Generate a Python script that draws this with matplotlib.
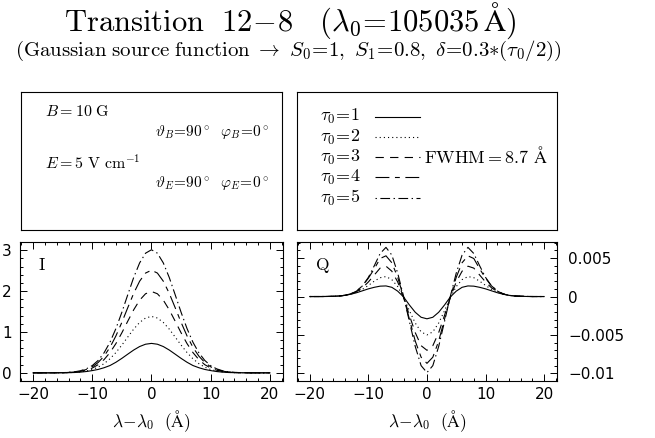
import matplotlib

matplotlib.use("Agg")
import matplotlib.pyplot as plt
from matplotlib.ticker import FuncFormatter, MultipleLocator

# wavelength offset grid (Angstrom)
WAVE = [-20, -19, -18, -17, -16, -15, -14, -13, -12, -11, -10, -9, -8, -7, -6, -5, -4, -3, -2, -1,
        0, 1, 2, 3, 4, 5, 6, 7, 8, 9, 10, 11, 12, 13, 14, 15, 16, 17, 18, 19, 20]

TAU_LABELS = ["1", "2", "3", "4", "5"]

# Stokes I, one list per tau_0
I_TAU1 = [0, 0, 0, 0, 0.001, 0.002, 0.004, 0.008, 0.017, 0.032, 0.055, 0.083, 0.125, 0.179, 0.259, 0.354, 0.457, 0.558, 0.643, 0.70,
          0.72, 0.70, 0.643, 0.558, 0.457, 0.354, 0.259, 0.179, 0.125, 0.083, 0.055, 0.032, 0.017, 0.008, 0.004, 0.002, 0.001, 0, 0, 0, 0]
I_TAU2 = [0, 0, 0, 0, 0.001, 0.002, 0.005, 0.011, 0.023, 0.045, 0.081, 0.139, 0.225, 0.344, 0.497, 0.679, 0.876, 1.070, 1.232, 1.341,
          1.38, 1.341, 1.232, 1.070, 0.876, 0.679, 0.497, 0.344, 0.225, 0.139, 0.081, 0.045, 0.023, 0.011, 0.005, 0.002, 0.001, 0, 0, 0, 0]
I_TAU3 = [0, 0, 0, 0, 0.001, 0.003, 0.008, 0.017, 0.034, 0.064, 0.117, 0.200, 0.324, 0.496, 0.716, 0.979, 1.264, 1.542, 1.777, 1.934,
          1.99, 1.934, 1.777, 1.542, 1.264, 0.979, 0.716, 0.496, 0.324, 0.200, 0.117, 0.064, 0.034, 0.017, 0.008, 0.003, 0.001, 0, 0, 0, 0]
I_TAU4 = [0, 0, 0, 0, 0.002, 0.004, 0.010, 0.021, 0.042, 0.081, 0.147, 0.253, 0.409, 0.625, 0.904, 1.235, 1.594, 1.945, 2.241, 2.440,
          2.51, 2.440, 2.241, 1.945, 1.594, 1.235, 0.904, 0.625, 0.409, 0.253, 0.147, 0.081, 0.042, 0.021, 0.010, 0.004, 0.002, 0, 0, 0, 0]
I_TAU5 = [0, 0, 0, 0.001, 0.002, 0.005, 0.012, 0.025, 0.051, 0.098, 0.177, 0.303, 0.491, 0.749, 1.084, 1.481, 1.911, 2.333, 2.688, 2.926,
          3.01, 2.926, 2.688, 2.333, 1.911, 1.481, 1.084, 0.749, 0.491, 0.303, 0.177, 0.098, 0.051, 0.025, 0.012, 0.005, 0.002, 0.001, 0, 0, 0]

# Stokes Q (units of 1e-3), one list per tau_0
Q_TAU1 = [0, 0, 0, 0.01, 0.03, 0.07, 0.15, 0.30, 0.50, 0.75, 1.00, 1.20, 1.35, 1.38, 1.20, 0.70, -0.05, -1.10, -2.05, -2.70,
          -2.90, -2.70, -2.05, -1.10, -0.05, 0.70, 1.20, 1.38, 1.35, 1.20, 1.00, 0.75, 0.50, 0.30, 0.15, 0.07, 0.03, 0.01, 0, 0, 0]
Q_TAU2 = [0, 0, 0, 0.01, 0.03, 0.07, 0.16, 0.32, 0.57, 0.95, 1.45, 2.00, 2.45, 2.60, 2.20, 1.30, -0.10, -1.85, -3.45, -4.60,
          -5.00, -4.60, -3.45, -1.85, -0.10, 1.30, 2.20, 2.60, 2.45, 2.00, 1.45, 0.95, 0.57, 0.32, 0.16, 0.07, 0.03, 0.01, 0, 0, 0]
Q_TAU3 = [0, 0, 0, 0.01, 0.03, 0.07, 0.16, 0.33, 0.65, 1.15, 1.90, 2.80, 3.70, 3.95, 3.30, 1.90, -0.10, -2.45, -4.70, -6.40,
          -7.00, -6.40, -4.70, -2.45, -0.10, 1.90, 3.30, 3.95, 3.70, 2.80, 1.90, 1.15, 0.65, 0.33, 0.16, 0.07, 0.03, 0.01, 0, 0, 0]
Q_TAU4 = [0, 0, 0, 0.01, 0.03, 0.07, 0.16, 0.36, 0.75, 1.40, 2.40, 3.60, 4.95, 5.30, 4.40, 2.50, -0.05, -2.95, -5.80, -7.90,
          -8.70, -7.90, -5.80, -2.95, -0.05, 2.50, 4.40, 5.30, 4.95, 3.60, 2.40, 1.40, 0.75, 0.36, 0.16, 0.07, 0.03, 0.01, 0, 0, 0]
Q_TAU5 = [0, 0, 0, 0.01, 0.03, 0.07, 0.15, 0.34, 0.72, 1.40, 2.50, 4.00, 5.60, 6.40, 5.40, 3.05, 0.05, -3.25, -6.50, -9.00,
          -9.90, -9.00, -6.50, -3.25, 0.05, 3.05, 5.40, 6.40, 5.60, 4.00, 2.50, 1.40, 0.72, 0.34, 0.15, 0.07, 0.03, 0.01, 0, 0, 0]

I_CURVES = [I_TAU1, I_TAU2, I_TAU3, I_TAU4, I_TAU5]
Q_CURVES = [Q_TAU1, Q_TAU2, Q_TAU3, Q_TAU4, Q_TAU5]
Q_SCALE = 1e-3

STYLES = ["-", (0, (0.8, 2.2)), (0, (6, 4.5)), (0, (10, 4, 3.5, 4)), (0, (1, 2.5, 7, 2.5))]

plt.rcParams["mathtext.fontset"] = "cm"
plt.rcParams["font.family"] = "DejaVu Sans"
plt.rcParams["lines.scale_dashes"] = False

LW = 0.8
fig = plt.figure(figsize=(6.55, 4.38), dpi=100)

fig.text(0.443, 0.93, r"$\mathrm{Transition\ \ 12\!-\!8\ \ \ (\lambda_0\!=\!105035\,Å)}$",
         ha="center", va="baseline", fontsize=22)
fig.text(0.44, 0.872,
         r"$\mathrm{(Gaussian\ source\ function}\ \rightarrow\ S_0\!=\!1,\ S_1\!=\!0.8,\ \delta\!=\!0.3{*}(\tau_0/2))$",
         ha="center", va="baseline", fontsize=15)


def frame(ax):
    for s in ax.spines.values():
        s.set_linewidth(0.8)


# info boxes
box_l = fig.add_axes([0.0321, 0.4749, 0.3985, 0.3151])
box_r = fig.add_axes([0.4534, 0.4749, 0.3969, 0.3151])
for b in (box_l, box_r):
    b.set_xticks([])
    b.set_yticks([])
    frame(b)

fs_box = 11.5
box_l.text(0.092, 0.855, r"$B=10\ \mathrm{G}$", va="center", fontsize=fs_box, transform=box_l.transAxes)
box_l.text(0.513, 0.71, r"$\vartheta_B\!=\!90^\circ\ \ \varphi_B\!=\!0^\circ$", va="center", fontsize=11,
           transform=box_l.transAxes)
box_l.text(0.092, 0.486, r"$E=5\ \mathrm{V\ cm^{-1}}$", va="center", fontsize=fs_box, transform=box_l.transAxes)
box_l.text(0.513, 0.34, r"$\vartheta_E\!=\!90^\circ\ \ \varphi_E\!=\!0^\circ$", va="center", fontsize=11,
           transform=box_l.transAxes)

fs_leg = 13
ys = [0.819, 0.674, 0.529, 0.384, 0.232]
for lab, y, st in zip(TAU_LABELS, ys, STYLES):
    box_r.text(0.088, y, r"$\tau_0\!=\!%s$" % lab, va="center", fontsize=fs_leg, transform=box_r.transAxes)
    box_r.plot([0.30, 0.473], [y, y], color="black", lw=LW, linestyle=st, transform=box_r.transAxes)
box_r.set_xlim(0, 1)
box_r.set_ylim(0, 1)
box_r.text(0.49, 0.529, r"$\mathrm{FWHM=8.7\ Å}$", va="center", fontsize=fs_leg, transform=box_r.transAxes)

# profile panels
ax_i = fig.add_axes([0.0305, 0.1301, 0.4015, 0.3174])
ax_q = fig.add_axes([0.4534, 0.1301, 0.3969, 0.3174])

for vals, st in zip(I_CURVES, STYLES):
    ax_i.plot(WAVE, vals, color="black", lw=LW, linestyle=st)
for vals, st in zip(Q_CURVES, STYLES):
    ax_q.plot(WAVE, [v * Q_SCALE for v in vals], color="black", lw=LW, linestyle=st)

ax_i.set_ylim(-0.2, 3.2)
ax_q.set_ylim(-0.0110, 0.0071)
ax_i.yaxis.set_major_locator(MultipleLocator(1))
ax_i.yaxis.set_minor_locator(MultipleLocator(0.2))
ax_q.yaxis.set_major_locator(MultipleLocator(0.005))
ax_q.yaxis.set_minor_locator(MultipleLocator(0.001))


def qfmt(v, pos):
    if abs(v) < 1e-12:
        return "0"
    return ("%g" % v).replace("-", "\u2212")


ax_q.yaxis.set_major_formatter(FuncFormatter(qfmt))

for ax in (ax_i, ax_q):
    frame(ax)
    ax.set_xlim(-22.2, 22.2)
    ax.xaxis.set_major_locator(MultipleLocator(10))
    ax.xaxis.set_minor_locator(MultipleLocator(2))
    ax.tick_params(which="both", direction="in", top=True, bottom=True, left=True, right=True,
                   width=0.7, labelsize=11)
    ax.tick_params(which="major", length=5)
    ax.tick_params(which="minor", length=2.5)
    ax.tick_params(axis="x", pad=4)
    ax.set_xlabel(r"$\lambda\!-\!\lambda_0\ \ (\mathrm{Å})$", fontsize=12.5, labelpad=5)

ax_i.tick_params(axis="y", pad=6)
ax_q.tick_params(axis="y", labelleft=False, labelright=True, pad=8)

ax_i.text(0.07, 0.8, r"$\mathrm{I}$", fontsize=12.5, transform=ax_i.transAxes)
ax_q.text(0.07, 0.8, r"$\mathrm{Q}$", fontsize=12.5, transform=ax_q.transAxes)

fig.savefig("out.png", dpi=100)
